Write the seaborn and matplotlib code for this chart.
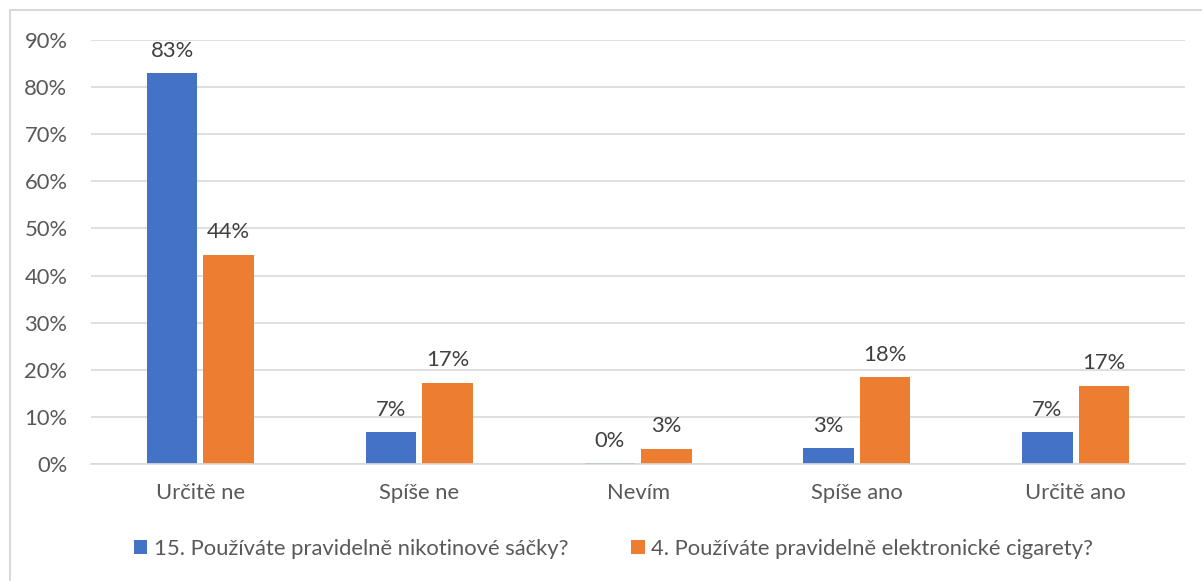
import pandas as pd
import numpy as np
import matplotlib
matplotlib.use("Agg")
import matplotlib.pyplot as plt
from matplotlib.lines import Line2D
import seaborn as sb

categories = ["Určitě ne", "Spíše ne", "Nevím", "Spíše ano", "Určitě ano"]
series = ["15. Používáte pravidelně nikotinové sáčky?",
          "4. Používáte pravidelně elektronické cigarety?"]
sacky = [83.0, 6.7, 0.2, 3.3, 6.7]
cigarety = [44.4, 17.2, 3.2, 18.4, 16.6]
yticks = [0, 10, 20, 30, 40, 50, 60, 70, 80, 90]
colors = ["#4472C4", "#ED7D31"]

df = pd.DataFrame({
    "Odpověď": categories * 2,
    "Otázka": [series[0]] * 5 + [series[1]] * 5,
    "Podíl": sacky + cigarety,
})

sb.set_theme(style="white")
plt.rcParams['font.family'] = ['Lato', 'DejaVu Sans']
text_col = "#595959"
fs = 15.8

fig = plt.figure(figsize=(12.02, 5.81), dpi=100)
ax = fig.add_axes([0.0757, 0.2014, 0.986 - 0.0757, 0.931 - 0.2014])

sb.barplot(data=df, x="Odpověď", y="Podíl", hue="Otázka", palette=colors,
           width=0.516, gap=0.106, saturation=1, ax=ax, legend=True,
           linewidth=0)

for cont in ax.containers:
    ax.bar_label(cont, labels=[f"{v:.0f}%" for v in cont.datavalues],
                 padding=9, fontsize=fs, color="#404040")

ax.set_ylim(0, 90)
ax.set_yticks(yticks)
ax.set_yticklabels([f"{t}%" for t in yticks])
ax.set_xlim(-0.5, 4.5)
ax.set_xlabel("")
ax.set_ylabel("")
ax.yaxis.grid(True, color="#D9D9D9", linewidth=1.2)
ax.set_axisbelow(True)
for s in ["left", "right", "top"]:
    ax.spines[s].set_visible(False)
ax.spines["bottom"].set_color("#D9D9D9")
ax.spines["bottom"].set_linewidth(1.2)
ax.tick_params(axis="y", length=0, pad=17, labelsize=fs, labelcolor=text_col)
ax.tick_params(axis="x", length=0, pad=14, labelsize=fs, labelcolor=text_col)

handles, labels = ax.get_legend_handles_labels()
ax.get_legend().remove()
fig.legend(handles, labels, loc="center", bbox_to_anchor=(613.5 / 1202, 1 - 549 / 581),
           ncol=2, frameon=False, fontsize=fs, labelcolor=text_col,
           handlelength=0.62, handleheight=0.62, handletextpad=0.3, columnspacing=2.85)

# chart border (only left and top visible in the crop)
fig.add_artist(Line2D([10 / 1202, 10 / 1202], [0, 1 - 10 / 581], color="#D9D9D9",
                      linewidth=1.5, transform=fig.transFigure))
fig.add_artist(Line2D([10 / 1202, 1], [1 - 10 / 581, 1 - 10 / 581], color="#D9D9D9",
                      linewidth=1.5, transform=fig.transFigure))

plt.savefig("out.png", dpi=100)
